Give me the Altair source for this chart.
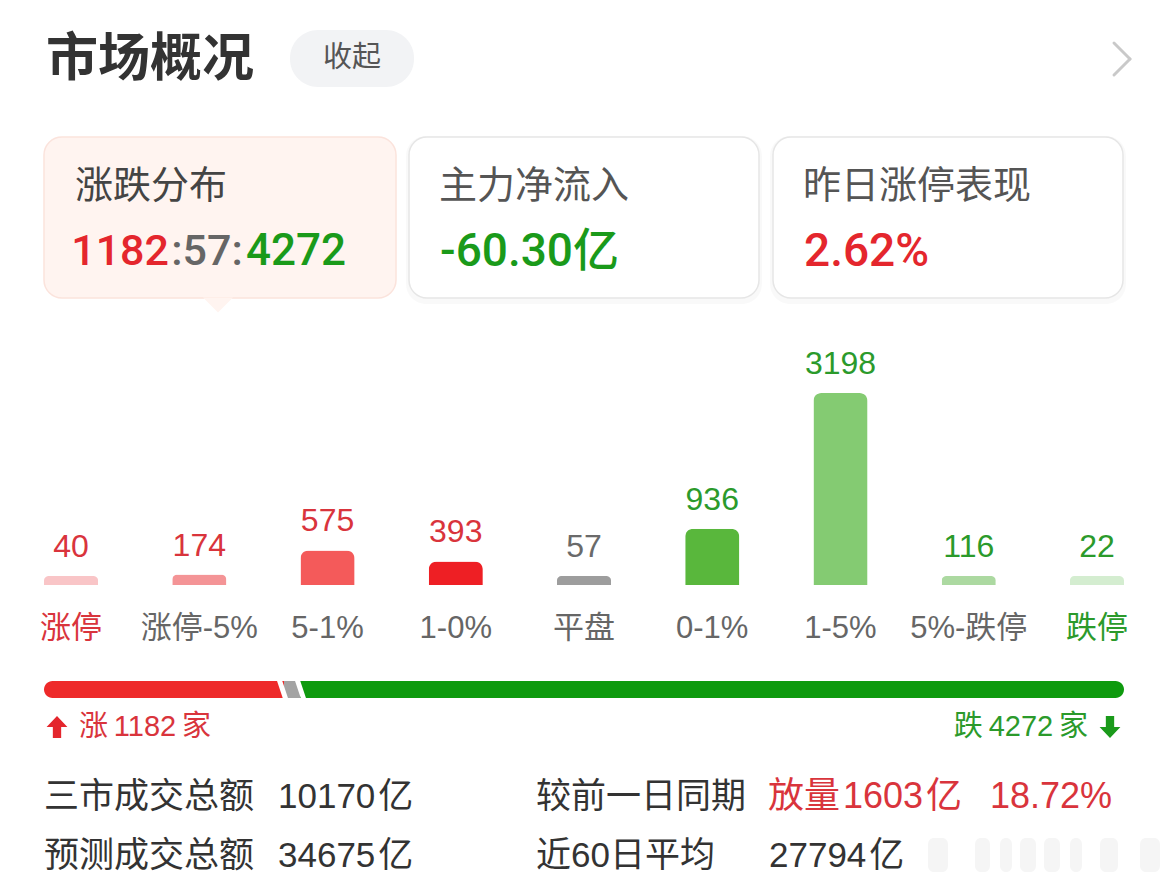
import altair as alt
import pandas as pd

# ---- data ----
categories = ["涨停", "涨停-5%", "5-1%", "1-0%", "平盘", "0-1%", "1-5%", "5%-跌停", "跌停"]
counts = [40, 174, 575, 393, 57, 936, 3198, 116, 22]
bar_colors = ["#f9c5c7", "#f49496", "#f45a5a", "#ee1f24", "#9d9d9d",
              "#59b73c", "#84cb72", "#acd9a1", "#d4edd0"]
value_colors = ["#d9343c"] * 4 + ["#6a6a6a"] + ["#2b9a2b"] * 4
cat_colors = ["#d9343c"] + ["#666666"] * 7 + ["#2b9a2b"]

up_count, flat_count, down_count = 1182, 57, 4272
net_inflow = "-60.30亿"
limit_up_perf = "2.62%"
turnover = "10170亿"
forecast = "34675亿"
vs_prev = "放量1603亿"
vs_prev_pct = "18.72%"
avg60 = "27794亿"

FONT = "Liberation Sans, Noto Sans CJK SC, sans-serif"
NUMFONT = "Roboto, Liberation Sans, Noto Sans CJK SC, sans-serif"
RED = "#e4262d"
GREEN = "#1a9a1a"
GRAY = "#666666"
DARK = "#333333"

one = alt.Data(values=[{"k": 1}])


def box(x1, x2, y1, y2, fill, radius=0, stroke=None, opacity=1.0, **kw):
    props = dict(fill=fill, cornerRadius=radius, opacity=opacity)
    if stroke:
        props.update(stroke=stroke, strokeWidth=1.5)
    props.update(kw)
    return alt.Chart(one).mark_rect(**props).encode(
        x=alt.value(x1), x2=alt.value(x2), y=alt.value(y1), y2=alt.value(y2))


def txt(s, x, y, size, color, align="left", weight="normal", font=FONT):
    return alt.Chart(one).mark_text(
        text=s, font=font, fontSize=size, color=color, align=align,
        baseline="middle", fontWeight=weight).encode(x=alt.value(x), y=alt.value(y))


def seg(x1, y1, x2, y2, color, width):
    return alt.Chart(one).mark_rule(color=color, strokeWidth=width, strokeCap="round").encode(
        x=alt.value(x1), y=alt.value(y1), x2=alt.value(x2), y2=alt.value(y2))


def shape(path, x, y, size, color):
    return alt.Chart(one).mark_point(shape=path, filled=True, size=size, color=color,
                                     opacity=1, strokeWidth=0).encode(
        x=alt.value(x), y=alt.value(y))


layers = []

# header
layers.append(txt("市场概况", 46, 60, 52, DARK, weight="bold"))
layers.append(box(290, 414, 30, 87, "#f2f3f5", radius=28))
layers.append(txt("收起", 352, 58, 29, "#555555", align="center"))
layers.append(seg(1114, 43, 1130, 59, "#c9c9c9", 3))
layers.append(seg(1130, 59, 1114, 75, "#c9c9c9", 3))

# cards
for x1, x2 in [(409, 759), (773, 1123)]:
    layers.append(box(x1 - 3, x2 + 3, 136, 304, "#000000", radius=20, opacity=0.025))
    layers.append(box(x1, x2, 137, 298, "#ffffff", radius=18, stroke="#e6e6e6"))
layers.append(box(44, 396, 137, 298, "#fff4f0", radius=18, stroke="#fbe3dc"))
layers.append(shape("M-1,-0.5 L1,-0.5 L0,0.5 Z", 218, 305, 900, "#fff4f0"))

layers.append(txt("涨跌分布", 75, 187, 38, "#444444"))
layers.append(txt(str(up_count), 169, 252, 43, RED, align="right", weight=500, font=NUMFONT))
layers.append(txt(f":{flat_count}:", 207, 252, 43, GRAY, align="center", weight=500, font=NUMFONT))
layers.append(txt(str(down_count), 246, 252, 44, GREEN, weight=500, font=NUMFONT))

layers.append(txt("主力净流入", 439, 187, 38, "#555555"))
layers.append(txt(net_inflow, 440, 252, 46, GREEN, weight=500, font=NUMFONT))

layers.append(txt("昨日涨停表现", 803, 187, 38, "#555555"))
layers.append(txt(limit_up_perf, 804, 252, 46, RED, weight=500, font=NUMFONT))

# bar chart
df = pd.DataFrame({
    "cat": categories,
    "count": counts,
    "bar_color": bar_colors,
    "value_color": value_colors,
    "cat_color": cat_colors,
})
base = alt.Chart(df).transform_calculate(shown="max(datum.count, 150)")
xenc = alt.X("cat:N", sort=categories, axis=None,
             scale=alt.Scale(range=[44, 1124], paddingInner=0.578, paddingOuter=0))
yenc = alt.Y("shown:Q", axis=None, scale=alt.Scale(domain=[0, 3198], range=[585, 393]))

bars = base.mark_bar(cornerRadiusTopLeft=8, cornerRadiusTopRight=8).encode(
    x=xenc, y=yenc, color=alt.Color("bar_color:N", scale=None))
vals = base.mark_text(font=FONT, fontSize=32, baseline="middle", dy=-29).encode(
    x=xenc, y=yenc, text="count:Q", color=alt.Color("value_color:N", scale=None))
cats = base.mark_text(font=FONT, fontSize=31, baseline="middle").encode(
    x=xenc, y=alt.value(629), text="cat:N", color=alt.Color("cat_color:N", scale=None))
layers += [bars, vals, cats]

# progress bar
layers.append(box(44, 285, 681, 698, "#ee2a2a", cornerRadiusTopLeft=8.5, cornerRadiusBottomLeft=8.5))
layers.append(box(284, 301, 681, 698, "#a3a3a3"))
layers.append(box(300, 1124, 681, 698, "#0e9a0e", cornerRadiusTopRight=8.5, cornerRadiusBottomRight=8.5))
layers.append(seg(279, 679, 286, 700, "#ffffff", 5))
layers.append(seg(297, 679, 304, 700, "#ffffff", 5))

up_arrow = "M0,-1 L0.95,0 L0.38,0 L0.38,1 L-0.38,1 L-0.38,0 L-0.95,0 Z"
down_arrow = "M0,1 L0.95,0 L0.38,0 L0.38,-1 L-0.38,-1 L-0.38,0 L-0.95,0 Z"
layers.append(shape(up_arrow, 57, 727, 480, RED))
layers.append(txt(f"涨\u2009{up_count}\u2009家", 79, 727, 29, "#d9343c"))
layers.append(shape(down_arrow, 1110, 727, 480, GREEN))
layers.append(txt(f"跌\u2009{down_count}\u2009家", 1088, 727, 29, "#2b9a2b", align="right"))

# bottom stats
layers.append(txt("三市成交总额", 44, 797, 35, DARK))
layers.append(txt(turnover.replace("亿", "\u200a亿"), 278, 797, 35, DARK))
layers.append(txt("预测成交总额", 44, 856, 35, DARK))
layers.append(txt(forecast.replace("亿", "\u200a亿"), 278, 856, 35, DARK))
layers.append(txt("较前一日同期", 536, 797, 35, DARK))
layers.append(txt(vs_prev.replace("量", "量\u200a").replace("亿", "\u200a亿"), 768, 797, 36, "#d9343c"))
layers.append(txt(vs_prev_pct, 1112, 797, 36, "#d9343c", align="right"))
layers.append(txt("近60日平均", 536, 856, 35, DARK))
layers.append(txt(avg60.replace("亿", "\u200a亿"), 769, 856, 35, DARK))

# faint watermark blur
for x1, x2 in [(928, 948), (975, 990), (1000, 1012), (1020, 1036), (1044, 1060),
               (1070, 1082), (1100, 1118), (1140, 1160)]:
    layers.append(box(x1, x2, 838, 872, "#f1f1f1", radius=6, opacity=0.7))

chart = alt.layer(*layers).properties(
    width=1169, height=886, padding=0, autosize=alt.AutoSizeParams(type="none"),
    background="#ffffff"
).configure_view(stroke=None)

chart.save("out.html", embed_options={"renderer": "svg", "actions": False})
